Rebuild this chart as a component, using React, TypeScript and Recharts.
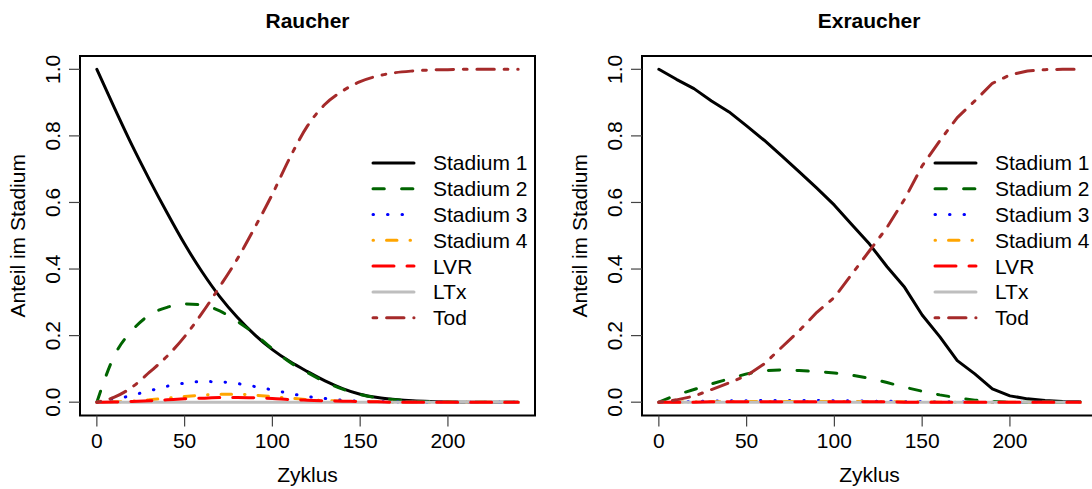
import { Legend, Line, LineChart, ReferenceArea, XAxis, YAxis } from "recharts";

// Zyklus (cycle) grid shared by both panels
const zyklus = [
  0, 10, 20, 30, 40, 50, 60, 70, 80, 90, 100, 110, 120, 130, 140, 150, 160,
  170, 180, 190, 200, 210, 220, 230, 240,
];

// Raucher
const rauStadium1 = [
  1.0, 0.884, 0.772, 0.668, 0.569, 0.475, 0.391, 0.317, 0.255, 0.202, 0.158,
  0.122, 0.092, 0.064, 0.041, 0.024, 0.014, 0.008, 0.004, 0.002, 0.001, 0, 0,
  0, 0,
];
const rauStadium2 = [
  0, 0.14, 0.215, 0.262, 0.285, 0.295, 0.292, 0.274, 0.243, 0.205, 0.16, 0.12,
  0.089, 0.061, 0.039, 0.023, 0.013, 0.007, 0.003, 0.001, 0, 0, 0, 0, 0,
];
const rauStadium3 = [
  0, 0.007, 0.021, 0.034, 0.048, 0.057, 0.062, 0.061, 0.056, 0.047, 0.037,
  0.026, 0.017, 0.011, 0.006, 0.003, 0.002, 0.001, 0, 0, 0, 0, 0, 0, 0,
];
const rauStadium4 = [
  0, 0.001, 0.003, 0.007, 0.012, 0.017, 0.021, 0.024, 0.024, 0.021, 0.017,
  0.012, 0.008, 0.005, 0.003, 0.002, 0.001, 0, 0, 0, 0, 0, 0, 0, 0,
];
const rauLVR = [
  0, 0.0005, 0.002, 0.004, 0.007, 0.01, 0.012, 0.014, 0.014, 0.013, 0.011,
  0.008, 0.006, 0.004, 0.003, 0.002, 0.001, 0, 0, 0, 0, 0, 0, 0, 0,
];
const rauLTx = [
  0, 0, 0, 0, 0, 0, 0, 0, 0, 0, 0, 0, 0, 0, 0, 0, 0, 0, 0, 0, 0, 0, 0, 0, 0,
];
const rauTod = [
  0, 0.015, 0.045, 0.09, 0.138, 0.197, 0.268, 0.347, 0.43, 0.525, 0.625, 0.735,
  0.83, 0.895, 0.935, 0.963, 0.98, 0.99, 0.995, 0.998, 0.999, 1.0, 1.0, 1.0,
  1.0,
];

// Exraucher
const exStadium1 = [
  1.0, 0.97, 0.942, 0.905, 0.872, 0.83, 0.787, 0.74, 0.692, 0.643, 0.592,
  0.533, 0.475, 0.407, 0.345, 0.262, 0.197, 0.125, 0.085, 0.04, 0.019, 0.01,
  0.005, 0.002, 0.001,
];
const exStadium2 = [
  0, 0.022, 0.038, 0.055, 0.07, 0.085, 0.095, 0.097, 0.095, 0.092, 0.088,
  0.081, 0.072, 0.059, 0.045, 0.033, 0.022, 0.013, 0.006, 0.002, 0, 0, 0, 0, 0,
];
const exStadium3 = [
  0, 0.001, 0.002, 0.003, 0.004, 0.004, 0.005, 0.005, 0.005, 0.005, 0.004,
  0.004, 0.003, 0.003, 0.002, 0.002, 0.001, 0.001, 0, 0, 0, 0, 0, 0, 0,
];
const exStadium4 = [
  0, 0, 0.001, 0.001, 0.002, 0.002, 0.002, 0.002, 0.002, 0.002, 0.002, 0.002,
  0.001, 0.001, 0.001, 0.001, 0, 0, 0, 0, 0, 0, 0, 0, 0,
];
const exLVR = [
  0, 0, 0, 0.001, 0.001, 0.001, 0.001, 0.001, 0.001, 0.001, 0.001, 0.001,
  0.001, 0.001, 0, 0, 0, 0, 0, 0, 0, 0, 0, 0, 0,
];
const exLTx = [
  0, 0, 0, 0, 0, 0, 0, 0, 0, 0, 0, 0, 0, 0, 0, 0, 0, 0, 0, 0, 0, 0, 0, 0, 0,
];
const exTod = [
  0, 0.007, 0.018, 0.038, 0.058, 0.08, 0.115, 0.165, 0.215, 0.27, 0.315, 0.385,
  0.455, 0.525, 0.61, 0.71, 0.785, 0.855, 0.905, 0.958, 0.983, 0.995, 0.999,
  1.0, 1.0,
];

const xTicks = [0, 50, 100, 150, 200];
const yTicks = [0, 0.2, 0.4, 0.6, 0.8, 1.0];

const FONT = "'Liberation Sans', Arial, Helvetica, sans-serif";
const FONT_SIZE = 21;

type SeriesStyle = { key: string; name: string; color: string; dash?: string };

// R-style line types: solid, dashed, dotted, dotdash, longdash, twodash
const seriesStyles: SeriesStyle[] = [
  { key: "s1", name: "Stadium 1", color: "#000000" },
  { key: "s2", name: "Stadium 2", color: "#006400", dash: "11.3 17.3" },
  { key: "s3", name: "Stadium 3", color: "#0000FF", dash: "0.5 14" },
  { key: "s4", name: "Stadium 4", color: "#FFA500", dash: "0.5 13 10.5 13" },
  { key: "lvr", name: "LVR", color: "#FF0000", dash: "21 13" },
  { key: "ltx", name: "LTx", color: "#BEBEBE" },
  { key: "tod", name: "Tod", color: "#A52A2A", dash: "3.8 9.8 17.4 9.8" },
];

// gray goes under the red long dashes at the zero line
const drawOrder = ["s1", "s2", "s3", "s4", "ltx", "lvr", "tod"];

function buildRows(cols: Record<string, number[]>) {
  return zyklus.map((t, i) => {
    const row: Record<string, number> = { t };
    for (const k of Object.keys(cols)) row[k] = cols[k][i];
    return row;
  });
}

const raucherRows = buildRows({
  s1: rauStadium1,
  s2: rauStadium2,
  s3: rauStadium3,
  s4: rauStadium4,
  lvr: rauLVR,
  ltx: rauLTx,
  tod: rauTod,
});

const exraucherRows = buildRows({
  s1: exStadium1,
  s2: exStadium2,
  s3: exStadium3,
  s4: exStadium4,
  lvr: exLVR,
  ltx: exLTx,
  tod: exTod,
});

const CHART_W = 562;
const CHART_H = 489;

function XTick({ x, payload }: any) {
  return (
    <text
      x={x}
      y={447.5}
      textAnchor="middle"
      fontFamily={FONT}
      fontSize={FONT_SIZE}
      fill="#000"
    >
      {payload.value}
    </text>
  );
}

function YTick({ y, payload }: any) {
  return (
    <text
      x={60}
      y={y}
      transform={`rotate(-90 60 ${y})`}
      textAnchor="middle"
      fontFamily={FONT}
      fontSize={FONT_SIZE}
      fill="#000"
    >
      {Number(payload.value).toFixed(1)}
    </text>
  );
}

function StageLegend() {
  const rowH = 25.8;
  return (
    <svg width={200} height={rowH * seriesStyles.length} style={{ display: "block" }}>
      {seriesStyles.map((s, i) => {
        const cy = rowH / 2 + i * rowH;
        return (
          <g key={s.key}>
            <line
              x1={13}
              x2={54}
              y1={cy}
              y2={cy}
              stroke={s.color}
              strokeWidth={3}
              strokeLinecap="round"
              strokeDasharray={s.dash}
            />
            <text x={73} y={cy + 7.5} fontFamily={FONT} fontSize={FONT_SIZE} fill="#000">
              {s.name}
            </text>
          </g>
        );
      })}
    </svg>
  );
}

function StagePanel({ rows, curve }: { rows: Record<string, number>[]; curve: "monotone" | "linear" }) {
  return (
    <LineChart
      width={CHART_W}
      height={CHART_H}
      data={rows}
      margin={{ top: 56, right: 27, bottom: 0, left: 0 }}
    >
      <XAxis
        dataKey="t"
        type="number"
        domain={[-9.6, 249.6]}
        ticks={xTicks}
        allowDataOverflow
        height={73.5}
        tickSize={11}
        axisLine={false}
        tickLine={{ stroke: "#444", strokeWidth: 1.2 }}
        tick={<XTick />}
        label={(p: any) => {
          const vb = p.viewBox ?? { x: 80, y: 415.5, width: 455 };
          return (
            <text
              x={vb.x + vb.width / 2}
              y={vb.y + 66.2}
              textAnchor="middle"
              fontFamily={FONT}
              fontSize={FONT_SIZE}
              fill="#000"
            >
              Zyklus
            </text>
          );
        }}
      />
      <YAxis
        type="number"
        domain={[-0.04, 1.04]}
        ticks={yTicks}
        allowDataOverflow
        width={80}
        tickSize={11}
        axisLine={false}
        tickLine={{ stroke: "#444", strokeWidth: 1.2 }}
        tick={<YTick />}
        label={(p: any) => {
          const vb = p.viewBox ?? { x: 0, y: 56, height: 359.5 };
          const cy = vb.y + vb.height / 2;
          return (
            <text
              x={25}
              y={cy}
              transform={`rotate(-90 25 ${cy})`}
              textAnchor="middle"
              fontFamily={FONT}
              fontSize={FONT_SIZE}
              fill="#000"
            >
              Anteil im Stadium
            </text>
          );
        }}
      />
      <ReferenceArea
        x1={-9.6}
        x2={249.6}
        y1={-0.04}
        y2={1.04}
        fill="none"
        fillOpacity={0}
        stroke="#000"
        strokeWidth={2}
        ifOverflow="visible"
      />
      {drawOrder.map((k) => {
        const s = seriesStyles.find((x) => x.key === k)!;
        return (
          <Line
            key={k}
            dataKey={k}
            name={s.name}
            type={curve}
            stroke={s.color}
            strokeWidth={3}
            strokeDasharray={s.dash}
            strokeLinecap="round"
            strokeLinejoin="round"
            dot={false}
            isAnimationActive={false}
          />
        );
      })}
      <Legend
        layout="horizontal"
        align="center"
        verticalAlign="middle"
        content={() => <StageLegend />}
        wrapperStyle={{ left: 360, top: 149.8, width: 200, height: 181 }}
      />
    </LineChart>
  );
}

export default function App() {
  return (
    <div
      style={{
        position: "absolute",
        left: 0,
        top: 0,
        width: 1092,
        height: 489,
        overflow: "hidden",
        background: "#fff",
      }}
    >
      <div style={{ position: "absolute", left: 0, top: 0 }}>
        <StagePanel rows={raucherRows} curve="monotone" />
      </div>
      <div style={{ position: "absolute", left: 561.6, top: 0 }}>
        <StagePanel rows={exraucherRows} curve="linear" />
      </div>
      <svg
        width={1092}
        height={50}
        style={{ position: "absolute", left: 0, top: 0, pointerEvents: "none" }}
      >
        <text x={307.5} y={27.7} textAnchor="middle" fontFamily={FONT} fontSize={FONT_SIZE} fontWeight="bold">
          Raucher
        </text>
        <text x={869.1} y={27.7} textAnchor="middle" fontFamily={FONT} fontSize={FONT_SIZE} fontWeight="bold">
          Exraucher
        </text>
      </svg>
    </div>
  );
}
